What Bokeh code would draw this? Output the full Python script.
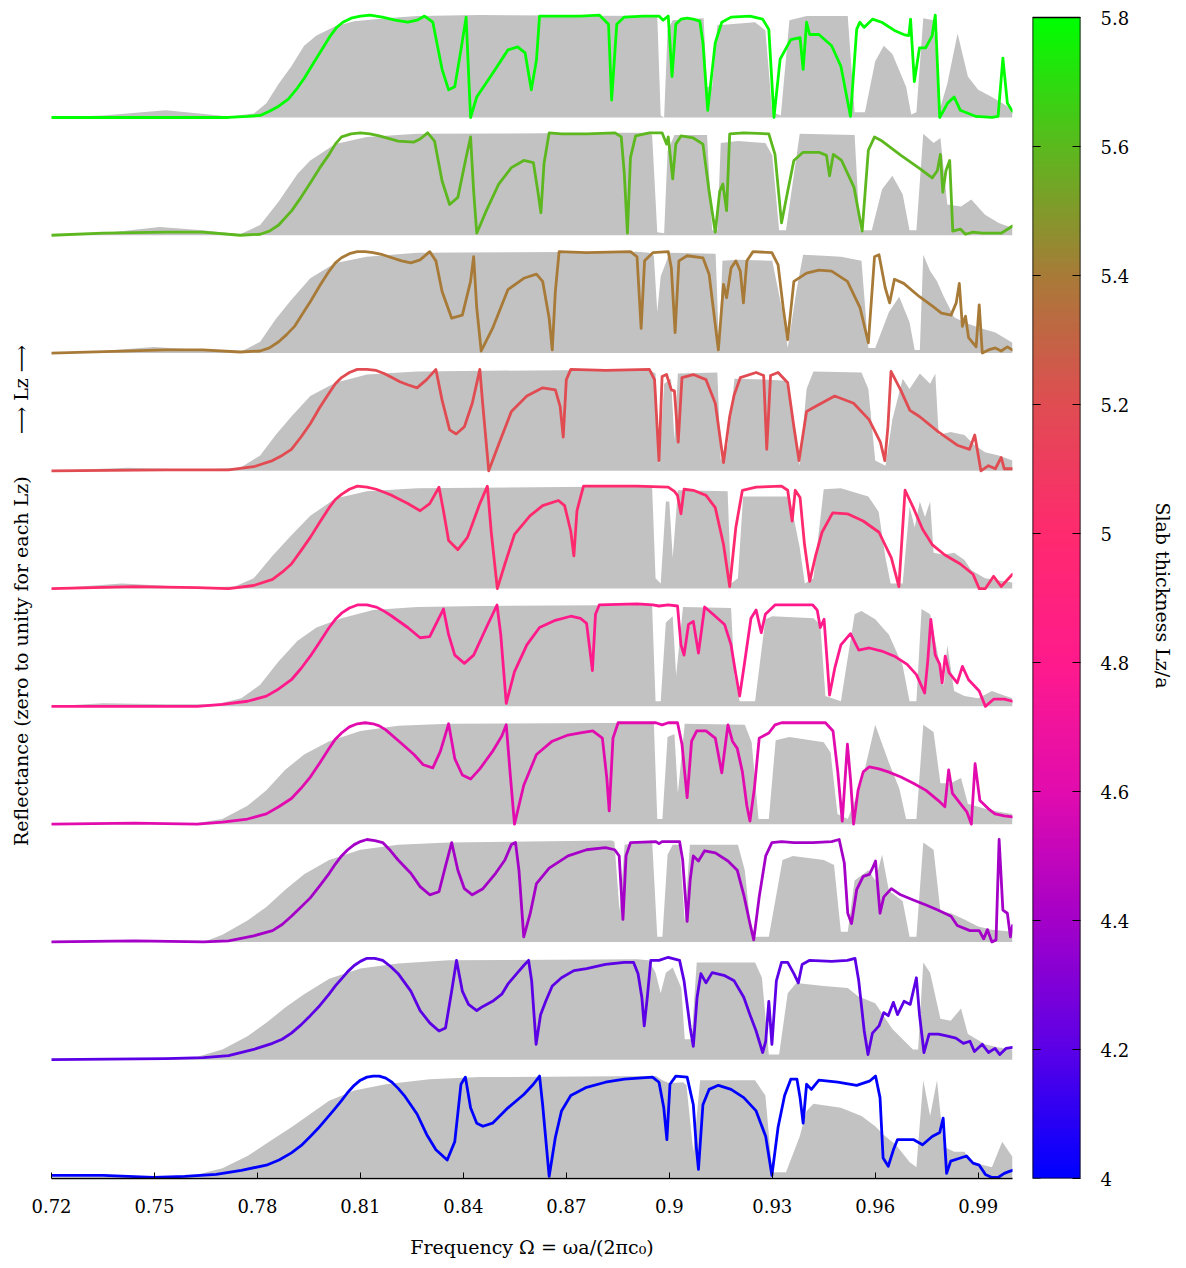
from bokeh.plotting import figure
from bokeh.layouts import row
from bokeh.models import FixedTicker, LinearColorMapper, Range1d
from bokeh.embed import file_html
from bokeh.resources import INLINE
import numpy as np

# ---------------- data (frequency, reflectance) ----------------
LZ_VALUES = [4.0, 4.2, 4.4, 4.6, 4.8, 5.0, 5.2, 5.4, 5.6, 5.8]
LZ_COLORS = ["#0000ff", "#5c00e6", "#a400c8", "#e20cae", "#ff1a8c",
             "#ff2a6e", "#e04c52", "#a87a38", "#5cb81e", "#00ff00"]

X_TICKS = [0.72, 0.75, 0.78, 0.81, 0.84, 0.87, 0.9, 0.93, 0.96, 0.99]
X_LABELS = ["0.72", "0.75", "0.78", "0.81", "0.84", "0.87", "0.9", "0.93", "0.96", "0.99"]
CB_TICKS = [4.0, 4.2, 4.4, 4.6, 4.8, 5.0, 5.2, 5.4, 5.6, 5.8]
CB_LABELS = ["4", "4.2", "4.4", "4.6", "4.8", "5", "5.2", "5.4", "5.6", "5.8"]

LINE_58 = [(0.720,0.00),(0.7716,0.00),(0.7771,0.01),(0.7808,0.02),(0.7835,0.06),(0.7862,0.11),(0.789,0.18),(0.7917,0.29),(0.7936,0.38),(0.7963,0.53),(0.7991,0.68),(0.8013,0.80),(0.8031,0.88),(0.8049,0.93),(0.8073,0.97),(0.810,0.99),(0.8128,1.00),(0.8164,0.98),(0.8201,0.95),(0.8238,0.93),(0.8265,0.95),(0.8287,0.99),(0.8311,0.93),(0.8338,0.47),(0.8357,0.27),(0.8375,0.30),(0.8393,0.66),(0.8408,0.98),(0.8421,0.00),(0.8439,0.20),(0.8485,0.43),(0.853,0.66),(0.8558,0.69),(0.858,0.63),(0.8598,0.27),(0.8613,0.56),(0.8622,0.99),(0.8668,0.99),(0.8741,0.99),(0.8796,1.00),(0.8823,0.91),(0.8832,0.17),(0.8847,0.91),(0.8869,0.98),(0.8924,0.99),(0.897,0.99),(0.8982,0.95),(0.8997,0.99),(0.9008,0.40),(0.9019,0.91),(0.9034,0.96),(0.9052,0.97),(0.907,0.96),(0.9089,0.94),(0.9098,0.73),(0.9112,0.07),(0.9134,0.73),(0.9153,0.93),(0.918,0.98),(0.9235,0.99),(0.9272,0.96),(0.929,0.86),(0.9305,0.00),(0.9323,0.57),(0.9354,0.76),(0.9381,0.78),(0.939,0.47),(0.940,0.93),(0.9409,0.81),(0.9436,0.81),(0.9473,0.70),(0.950,0.50),(0.9528,0.01),(0.9546,0.86),(0.9555,0.93),(0.9568,0.88),(0.9592,0.96),(0.9619,0.93),(0.9656,0.85),(0.9683,0.81),(0.9698,0.80),(0.9703,0.96),(0.9714,0.35),(0.9729,0.68),(0.9747,0.68),(0.9766,0.80),(0.9775,1.00),(0.9788,0.00),(0.9811,0.14),(0.983,0.20),(0.9848,0.07),(0.9894,0.01),(0.994,0.00),(0.9958,0.01),(0.9972,0.58),(0.9985,0.14),(1.000,0.06)]
GREY_58 = [(0.720,0.00),(0.735,0.02),(0.7533,0.07),(0.763,0.04),(0.7716,0.01),(0.779,0.04),(0.7826,0.14),(0.7862,0.33),(0.7899,0.50),(0.7936,0.70),(0.7972,0.80),(0.8027,0.89),(0.8082,0.94),(0.8174,0.97),(0.8265,0.99),(0.8448,1.0),(0.8950,0.99),(0.8965,0.99),(0.8975,0.02),(0.8985,0.0),(0.8995,0.85),(0.9010,0.95),(0.9100,0.97),(0.9110,0.3),(0.9125,0.3),(0.9140,0.90),(0.9250,0.93),(0.9280,0.85),(0.9300,0.05),(0.9325,0.02),(0.9350,0.95),(0.9400,0.99),(0.9520,0.99),(0.9540,0.05),(0.9570,0.05),(0.9600,0.55),(0.9625,0.70),(0.9650,0.62),(0.9690,0.30),(0.9705,0.03),(0.9720,0.05),(0.9740,0.97),(0.9770,0.95),(0.9790,0.10),(0.9810,0.33),(0.9840,0.82),(0.9870,0.40),(0.9900,0.27),(0.9940,0.20),(0.9980,0.12),(1.000,0.07)]

LINE_56 = [(0.720,0.00),(0.735,0.02),(0.7533,0.03),(0.764,0.03),(0.775,0.00),(0.7808,0.01),(0.7835,0.04),(0.7862,0.10),(0.790,0.24),(0.7927,0.37),(0.7954,0.51),(0.7982,0.66),(0.8009,0.79),(0.8027,0.89),(0.8045,0.96),(0.8073,0.99),(0.810,1.00),(0.8128,0.99),(0.8155,0.97),(0.821,0.92),(0.8256,0.91),(0.8274,0.94),(0.8296,1.00),(0.8316,0.92),(0.8338,0.53),(0.836,0.30),(0.8384,0.37),(0.8408,0.76),(0.8421,0.96),(0.843,0.43),(0.8439,0.02),(0.8467,0.24),(0.8503,0.50),(0.854,0.66),(0.8576,0.73),(0.8604,0.71),(0.8617,0.43),(0.8626,0.22),(0.8635,0.70),(0.865,1.00),(0.8686,0.99),(0.8759,0.99),(0.8842,1.00),(0.886,0.96),(0.8869,0.60),(0.8878,0.02),(0.8887,0.76),(0.8902,0.97),(0.8942,1.00),(0.8979,1.00),(0.8992,0.89),(0.8997,0.96),(0.901,0.55),(0.9019,0.89),(0.9034,0.97),(0.907,0.95),(0.9098,0.89),(0.9116,0.43),(0.9134,0.03),(0.9147,0.43),(0.9156,0.50),(0.9167,0.24),(0.9176,0.99),(0.9217,1.00),(0.929,0.99),(0.9308,0.79),(0.9327,0.12),(0.9345,0.43),(0.9363,0.73),(0.939,0.81),(0.9436,0.81),(0.9458,0.78),(0.9467,0.58),(0.9478,0.79),(0.9502,0.73),(0.9538,0.47),(0.9562,0.04),(0.958,0.83),(0.9598,0.96),(0.962,0.92),(0.9675,0.78),(0.973,0.65),(0.9766,0.56),(0.9781,0.63),(0.979,0.79),(0.9797,0.42),(0.9806,0.63),(0.9817,0.73),(0.9826,0.04),(0.9848,0.06),(0.9863,0.01),(0.9885,0.03),(0.9912,0.02),(0.9967,0.02),(1.000,0.09)]
GREY_56 = [(0.720,0.00),(0.735,0.02),(0.7515,0.08),(0.764,0.05),(0.775,0.01),(0.7808,0.10),(0.7862,0.33),(0.7917,0.60),(0.7954,0.73),(0.8027,0.89),(0.8119,0.96),(0.8265,0.99),(0.8869,1.0),(0.8940,1.0),(0.8950,0.98),(0.8965,0.03),(0.8985,0.02),(0.8995,0.82),(0.9015,0.98),(0.9110,0.98),(0.9125,0.05),(0.9140,0.05),(0.9150,0.90),(0.9200,0.92),(0.9280,0.90),(0.9300,0.78),(0.9320,0.05),(0.9340,0.05),(0.9380,0.99),(0.9540,0.98),(0.9555,0.05),(0.9590,0.05),(0.9620,0.45),(0.9650,0.58),(0.9680,0.40),(0.9700,0.05),(0.9720,0.05),(0.9740,0.99),(0.9770,0.90),(0.9790,0.95),(0.9810,0.30),(0.9850,0.28),(0.9880,0.35),(0.9920,0.20),(0.9960,0.12),(1.000,0.07)]

LINE_54 = [(0.720,0.00),(0.7533,0.03),(0.764,0.03),(0.775,0.01),(0.7808,0.02),(0.7835,0.05),(0.7862,0.11),(0.7885,0.18),(0.7908,0.26),(0.7931,0.38),(0.7954,0.50),(0.7982,0.66),(0.8009,0.80),(0.8027,0.88),(0.8045,0.93),(0.8068,0.97),(0.8091,0.99),(0.8114,0.99),(0.8137,0.98),(0.8165,0.96),(0.8192,0.93),(0.822,0.90),(0.8247,0.88),(0.8274,0.91),(0.8302,0.99),(0.832,0.90),(0.8338,0.60),(0.8366,0.34),(0.8397,0.37),(0.8421,0.70),(0.843,0.94),(0.8439,0.44),(0.8452,0.02),(0.8485,0.24),(0.853,0.62),(0.8576,0.73),(0.8613,0.77),(0.8631,0.70),(0.865,0.34),(0.8659,0.03),(0.8668,0.60),(0.8679,0.99),(0.8759,0.98),(0.8887,0.99),(0.8906,0.94),(0.8918,0.24),(0.8928,0.90),(0.8952,0.98),(0.8997,0.99),(0.9006,0.83),(0.9017,0.20),(0.9028,0.90),(0.9052,0.95),(0.9098,0.93),(0.9116,0.77),(0.9143,0.03),(0.9158,0.67),(0.9167,0.54),(0.918,0.83),(0.9194,0.90),(0.9207,0.80),(0.9216,0.49),(0.9226,0.90),(0.9244,0.99),(0.9299,0.98),(0.9317,0.86),(0.9332,0.44),(0.9345,0.13),(0.9363,0.70),(0.940,0.78),(0.9436,0.81),(0.9473,0.80),(0.9519,0.70),(0.9556,0.44),(0.958,0.10),(0.9598,0.94),(0.9611,0.96),(0.9629,0.64),(0.9642,0.49),(0.9656,0.72),(0.9683,0.68),(0.9729,0.55),(0.9766,0.46),(0.9793,0.39),(0.9821,0.37),(0.9836,0.49),(0.9845,0.68),(0.9854,0.26),(0.9863,0.36),(0.9872,0.15),(0.9894,0.06),(0.9903,0.47),(0.9912,0.00),(0.993,0.03),(0.995,0.05),(0.9967,0.02),(0.9985,0.06),(1.000,0.03)]
GREY_54 = [(0.720,0.00),(0.735,0.02),(0.7497,0.06),(0.764,0.03),(0.775,0.01),(0.7808,0.11),(0.7853,0.33),(0.7899,0.52),(0.7954,0.73),(0.8027,0.88),(0.8119,0.94),(0.8265,0.98),(0.8906,0.99),(0.8940,0.98),(0.8955,0.95),(0.8965,0.40),(0.8975,0.75),(0.8990,0.88),(0.9000,0.98),(0.9135,0.97),(0.9145,0.05),(0.9155,0.90),(0.9200,0.91),(0.9300,0.90),(0.9330,0.40),(0.9345,0.05),(0.9370,0.60),(0.9390,0.96),(0.9450,0.95),(0.9500,0.94),(0.9560,0.90),(0.9580,0.05),(0.9600,0.05),(0.9640,0.40),(0.9670,0.55),(0.9700,0.30),(0.9715,0.03),(0.9730,0.03),(0.9740,0.96),(0.9760,0.80),(0.9780,0.70),(0.9800,0.55),(0.9830,0.35),(0.9860,0.30),(0.9900,0.25),(0.9950,0.20),(1.000,0.10)]

LINE_52 = [(0.720,0.00),(0.7533,0.01),(0.7716,0.01),(0.7789,0.04),(0.7844,0.10),(0.7872,0.15),(0.7899,0.21),(0.7927,0.33),(0.7954,0.46),(0.7982,0.62),(0.8009,0.76),(0.8027,0.85),(0.8045,0.91),(0.8068,0.96),(0.8091,0.99),(0.8119,0.99),(0.8146,0.98),(0.8169,0.95),(0.8192,0.91),(0.8215,0.87),(0.8238,0.84),(0.8265,0.81),(0.8293,0.89),(0.832,0.99),(0.8338,0.69),(0.836,0.40),(0.8379,0.36),(0.8403,0.43),(0.8426,0.66),(0.8448,0.99),(0.8457,0.63),(0.8474,0.00),(0.8503,0.26),(0.854,0.58),(0.8585,0.73),(0.8631,0.81),(0.8668,0.79),(0.8682,0.63),(0.8691,0.33),(0.870,0.89),(0.8713,0.99),(0.8814,0.98),(0.8942,0.99),(0.8957,0.89),(0.897,0.10),(0.8979,0.92),(0.8992,0.94),(0.9006,0.79),(0.9015,0.78),(0.9026,0.28),(0.9037,0.91),(0.907,0.94),(0.9107,0.89),(0.9134,0.66),(0.9158,0.08),(0.9176,0.53),(0.9189,0.74),(0.9207,0.91),(0.9253,0.96),(0.9275,0.93),(0.9284,0.21),(0.9295,0.93),(0.9317,0.96),(0.9345,0.86),(0.9363,0.43),(0.9378,0.10),(0.940,0.58),(0.9427,0.63),(0.9482,0.73),(0.9537,0.66),(0.9582,0.50),(0.9615,0.28),(0.9628,0.10),(0.9637,0.43),(0.9646,0.97),(0.9674,0.79),(0.9701,0.59),(0.9729,0.53),(0.9784,0.38),(0.9839,0.25),(0.9875,0.21),(0.989,0.35),(0.9908,0.00),(0.993,0.05),(0.995,0.02),(0.9967,0.13),(0.9976,0.02),(1.000,0.02)]
GREY_52 = [(0.720,0.00),(0.7423,0.03),(0.762,0.01),(0.775,0.03),(0.7808,0.15),(0.7853,0.35),(0.7899,0.53),(0.7954,0.73),(0.8027,0.86),(0.8119,0.94),(0.8265,0.97),(0.8924,0.99),(0.8940,0.99),(0.8960,0.95),(0.8970,0.05),(0.8985,0.85),(0.9005,0.90),(0.9015,0.30),(0.9025,0.95),(0.9140,0.96),(0.9150,0.10),(0.9170,0.25),(0.9190,0.90),(0.9290,0.89),(0.9340,0.88),(0.9365,0.40),(0.9380,0.05),(0.9400,0.80),(0.9420,0.97),(0.9560,0.96),(0.9580,0.80),(0.9600,0.10),(0.9630,0.05),(0.9650,0.50),(0.9680,0.90),(0.9700,0.80),(0.9730,0.95),(0.9760,0.85),(0.9775,0.95),(0.9785,0.35),(0.9820,0.38),(0.9860,0.35),(0.9890,0.25),(0.9920,0.18),(0.9960,0.15),(1.000,0.10)]

LINE_50 = [(0.720,0.00),(0.7442,0.02),(0.7625,0.01),(0.7716,0.00),(0.7789,0.03),(0.7844,0.09),(0.7872,0.16),(0.7899,0.24),(0.7927,0.37),(0.7954,0.50),(0.7982,0.65),(0.8009,0.79),(0.8027,0.87),(0.8045,0.92),(0.8068,0.97),(0.8091,1.00),(0.8119,0.99),(0.8146,0.97),(0.8169,0.94),(0.8192,0.91),(0.8238,0.83),(0.8274,0.76),(0.8302,0.83),(0.8329,0.99),(0.8342,0.76),(0.8357,0.47),(0.8384,0.38),(0.8412,0.50),(0.8448,0.83),(0.847,1.00),(0.8481,0.56),(0.8499,0.00),(0.8521,0.24),(0.8549,0.53),(0.8594,0.71),(0.8631,0.81),(0.8677,0.86),(0.8695,0.81),(0.8713,0.56),(0.8722,0.32),(0.8731,0.76),(0.875,1.00),(0.8814,1.00),(0.8906,1.00),(0.8997,0.99),(0.9015,0.95),(0.9024,0.91),(0.9034,0.73),(0.9043,0.97),(0.907,0.96),(0.9107,0.91),(0.9134,0.79),(0.9158,0.43),(0.9176,0.02),(0.9194,0.60),(0.9213,0.96),(0.9253,0.99),(0.9327,1.00),(0.9345,0.96),(0.9358,0.66),(0.9367,0.96),(0.9381,0.89),(0.9394,0.43),(0.9409,0.07),(0.9427,0.33),(0.9445,0.55),(0.9476,0.74),(0.9519,0.73),(0.9565,0.66),(0.9611,0.55),(0.9647,0.30),(0.9669,0.02),(0.9687,0.96),(0.9711,0.79),(0.9738,0.58),(0.9766,0.43),(0.9802,0.33),(0.9848,0.24),(0.9885,0.14),(0.9903,0.00),(0.9921,0.00),(0.9945,0.12),(0.9967,0.02),(1.000,0.14)]
GREY_50 = [(0.720,0.00),(0.7405,0.05),(0.7625,0.01),(0.7734,0.02),(0.7789,0.10),(0.7844,0.32),(0.7899,0.52),(0.7954,0.71),(0.8027,0.88),(0.8119,0.95),(0.8265,0.98),(0.8942,1.0),(0.8950,0.99),(0.8960,0.10),(0.8975,0.05),(0.8990,0.85),(0.9000,0.85),(0.9010,0.30),(0.9025,0.96),(0.9170,0.95),(0.9180,0.05),(0.9200,0.10),(0.9215,0.90),(0.9350,0.90),(0.9380,0.40),(0.9395,0.05),(0.9420,0.10),(0.9450,0.97),(0.9500,0.98),(0.9580,0.90),(0.9610,0.75),(0.9630,0.30),(0.9645,0.05),(0.9680,0.05),(0.9700,0.80),(0.9715,0.60),(0.9730,0.85),(0.9745,0.70),(0.9760,0.85),(0.9770,0.35),(0.9800,0.33),(0.9830,0.35),(0.9860,0.28),(0.9880,0.18),(0.9920,0.10),(0.9960,0.08),(1.000,0.06)]

LINE_48 = [(0.720,0.00),(0.7625,0.00),(0.7698,0.02),(0.7771,0.05),(0.7826,0.10),(0.7862,0.17),(0.7899,0.26),(0.7927,0.37),(0.7954,0.49),(0.7982,0.63),(0.8009,0.77),(0.8027,0.85),(0.8045,0.91),(0.8068,0.96),(0.8091,0.99),(0.8119,0.99),(0.8146,0.97),(0.8169,0.93),(0.8192,0.88),(0.8238,0.77),(0.8274,0.67),(0.8302,0.68),(0.8324,0.83),(0.8342,0.95),(0.8357,0.70),(0.8375,0.50),(0.8403,0.42),(0.843,0.50),(0.8467,0.77),(0.8498,0.99),(0.8509,0.70),(0.8525,0.03),(0.8549,0.34),(0.8585,0.60),(0.8622,0.77),(0.8668,0.84),(0.8713,0.88),(0.8741,0.86),(0.8759,0.81),(0.8768,0.57),(0.8776,0.35),(0.8785,0.90),(0.8796,0.99),(0.8906,1.00),(0.8952,0.99),(0.897,0.98),(0.8997,0.99),(0.9024,0.98),(0.9034,0.60),(0.9043,0.50),(0.9056,0.80),(0.907,0.83),(0.9085,0.52),(0.9103,0.97),(0.9134,0.88),(0.9161,0.80),(0.918,0.60),(0.9194,0.31),(0.9205,0.10),(0.922,0.44),(0.9238,0.86),(0.9253,0.94),(0.9268,0.72),(0.928,0.90),(0.9308,0.99),(0.9418,0.99),(0.9431,0.94),(0.944,0.77),(0.9451,0.85),(0.946,0.44),(0.9467,0.11),(0.9482,0.37),(0.950,0.60),(0.9528,0.71),(0.9552,0.55),(0.9583,0.57),(0.9619,0.54),(0.9656,0.49),(0.9693,0.41),(0.972,0.31),(0.9744,0.13),(0.9753,0.44),(0.9762,0.85),(0.9775,0.50),(0.9788,0.41),(0.9795,0.23),(0.9804,0.49),(0.9815,0.33),(0.9839,0.23),(0.9854,0.39),(0.9872,0.26),(0.9903,0.15),(0.9921,0.00),(0.9945,0.07),(0.9976,0.07),(1.000,0.05)]
GREY_48 = [(0.720,0.00),(0.735,0.03),(0.7533,0.02),(0.768,0.02),(0.7753,0.08),(0.7808,0.21),(0.7862,0.44),(0.7917,0.64),(0.7972,0.77),(0.8045,0.86),(0.8137,0.94),(0.8265,0.97),(0.8448,0.98),(0.8942,0.99),(0.8950,0.98),(0.8960,0.05),(0.8975,0.05),(0.8990,0.82),(0.9010,0.88),(0.9020,0.30),(0.9040,0.97),(0.9180,0.96),(0.9190,0.30),(0.9205,0.05),(0.9250,0.05),(0.9280,0.85),(0.9300,0.88),(0.9420,0.86),(0.9440,0.80),(0.9455,0.10),(0.9500,0.05),(0.9540,0.90),(0.9560,0.93),(0.9600,0.85),(0.9640,0.70),(0.9680,0.40),(0.9700,0.05),(0.9720,0.05),(0.9735,0.95),(0.9760,0.90),(0.9780,0.55),(0.9800,0.20),(0.9810,0.60),(0.9830,0.15),(0.9860,0.10),(0.9900,0.08),(0.9940,0.15),(0.9980,0.10),(1.000,0.08)]

LINE_46 = [(0.720,0.00),(0.7442,0.01),(0.7625,0.00),(0.7698,0.02),(0.7771,0.05),(0.7826,0.10),(0.7862,0.17),(0.7899,0.25),(0.7927,0.35),(0.7954,0.46),(0.7982,0.60),(0.8009,0.74),(0.8027,0.83),(0.8045,0.89),(0.8068,0.95),(0.8091,0.98),(0.8114,0.99),(0.8137,0.98),(0.8155,0.96),(0.8174,0.92),(0.8219,0.79),(0.8256,0.68),(0.8283,0.58),(0.8311,0.55),(0.8333,0.71),(0.8357,0.98),(0.8375,0.64),(0.8397,0.48),(0.8421,0.44),(0.8448,0.54),(0.8485,0.71),(0.8512,0.86),(0.8525,0.97),(0.8536,0.51),(0.8549,0.00),(0.8576,0.38),(0.8613,0.68),(0.8659,0.81),(0.8705,0.87),(0.8741,0.89),(0.8777,0.91),(0.8805,0.84),(0.8818,0.45),(0.8825,0.13),(0.8836,0.84),(0.8851,0.99),(0.8961,0.99),(0.8979,0.97),(0.8997,0.99),(0.9024,0.99),(0.9037,0.78),(0.9052,0.26),(0.9065,0.81),(0.908,0.91),(0.9107,0.91),(0.9134,0.84),(0.9143,0.68),(0.9153,0.50),(0.9162,0.74),(0.9171,0.97),(0.9184,0.81),(0.9198,0.74),(0.9213,0.51),(0.9226,0.18),(0.9235,0.03),(0.9248,0.35),(0.9262,0.84),(0.929,0.89),(0.9308,0.97),(0.9327,0.99),(0.9455,0.99),(0.9477,0.91),(0.9491,0.51),(0.9504,0.03),(0.9519,0.78),(0.9528,0.44),(0.9537,0.00),(0.955,0.33),(0.9565,0.51),(0.9583,0.56),(0.9611,0.54),(0.9638,0.51),(0.9675,0.46),(0.9711,0.40),(0.9748,0.33),(0.9784,0.23),(0.9803,0.17),(0.9814,0.53),(0.9825,0.30),(0.9848,0.20),(0.9867,0.12),(0.988,0.00),(0.9891,0.59),(0.9905,0.23),(0.993,0.15),(0.9949,0.10),(0.9976,0.08),(1.000,0.07)]
GREY_46 = [(0.720,0.00),(0.7625,0.01),(0.7698,0.05),(0.7771,0.18),(0.7826,0.33),(0.7881,0.53),(0.7936,0.68),(0.8009,0.81),(0.810,0.91),(0.821,0.96),(0.8357,0.98),(0.8942,0.99),(0.8955,0.99),(0.8965,0.05),(0.8980,0.05),(0.8995,0.85),(0.9015,0.88),(0.9025,0.30),(0.9045,0.98),(0.9220,0.97),(0.9240,0.80),(0.9260,0.05),(0.9290,0.05),(0.9310,0.82),(0.9350,0.85),(0.9450,0.80),(0.9470,0.70),(0.9490,0.10),(0.9520,0.05),(0.9560,0.40),(0.9600,0.97),(0.9640,0.60),(0.9670,0.35),(0.9690,0.05),(0.9720,0.05),(0.9740,0.97),(0.9770,0.90),(0.9790,0.40),(0.9820,0.40),(0.9850,0.45),(0.9870,0.20),(0.9920,0.15),(0.9960,0.12),(1.000,0.10)]

LINE_44 = [(0.720,0.00),(0.7442,0.01),(0.7643,0.00),(0.7716,0.01),(0.7789,0.06),(0.7844,0.11),(0.7872,0.17),(0.7899,0.25),(0.7927,0.34),(0.7954,0.43),(0.7982,0.55),(0.8009,0.67),(0.8027,0.76),(0.8045,0.84),(0.8063,0.90),(0.8082,0.95),(0.810,0.98),(0.8119,1.00),(0.8142,0.99),(0.8165,0.97),(0.8188,0.89),(0.821,0.80),(0.8247,0.67),(0.8274,0.54),(0.8302,0.46),(0.8329,0.49),(0.8348,0.74),(0.8366,0.97),(0.8384,0.70),(0.8403,0.52),(0.8426,0.46),(0.8457,0.52),(0.8494,0.67),(0.8521,0.80),(0.854,0.95),(0.8552,0.97),(0.8562,0.70),(0.8576,0.05),(0.8595,0.28),(0.8613,0.57),(0.865,0.72),(0.8705,0.84),(0.8759,0.90),(0.8814,0.92),(0.8841,0.90),(0.8854,0.84),(0.8865,0.22),(0.8874,0.84),(0.8887,0.97),(0.8961,0.98),(0.897,0.96),(0.8979,0.98),(0.903,0.98),(0.9039,0.80),(0.9052,0.20),(0.9061,0.61),(0.907,0.84),(0.9085,0.79),(0.9103,0.89),(0.9134,0.87),(0.9171,0.79),(0.9198,0.70),(0.9217,0.46),(0.9235,0.18),(0.9246,0.02),(0.9262,0.44),(0.9281,0.84),(0.9299,0.97),(0.9327,0.98),(0.9363,0.97),(0.9418,0.97),(0.9473,0.98),(0.9495,1.00),(0.951,0.77),(0.952,0.28),(0.9531,0.18),(0.9546,0.51),(0.9565,0.64),(0.9583,0.66),(0.9592,0.72),(0.9601,0.79),(0.9614,0.28),(0.9625,0.44),(0.9647,0.52),(0.9674,0.46),(0.9711,0.41),(0.9748,0.36),(0.9784,0.31),(0.9821,0.25),(0.9839,0.16),(0.9876,0.11),(0.9903,0.11),(0.9916,0.03),(0.9927,0.12),(0.994,0.00),(0.9952,0.02),(0.9961,1.00),(0.9972,0.31),(0.9985,0.28),(0.9994,0.05),(1.000,0.16)]
GREY_44 = [(0.720,0.00),(0.7643,0.00),(0.7698,0.07),(0.7771,0.21),(0.7826,0.34),(0.7881,0.51),(0.7936,0.66),(0.8009,0.80),(0.810,0.90),(0.821,0.95),(0.8357,0.97),(0.8832,0.99),(0.8840,0.98),(0.8855,0.30),(0.8870,0.95),(0.8950,0.99),(0.8965,0.05),(0.8980,0.05),(0.8995,0.85),(0.9010,0.95),(0.9030,0.95),(0.9045,0.20),(0.9060,0.95),(0.9200,0.95),(0.9220,0.70),(0.9240,0.05),(0.9290,0.05),(0.9330,0.80),(0.9360,0.84),(0.9450,0.80),(0.9480,0.75),(0.9500,0.10),(0.9520,0.10),(0.9540,0.60),(0.9580,0.70),(0.9600,0.60),(0.9620,0.85),(0.9640,0.50),(0.9680,0.40),(0.9700,0.05),(0.9720,0.05),(0.9740,0.97),(0.9770,0.90),(0.9790,0.30),(0.9820,0.28),(0.9860,0.22),(0.9900,0.15),(0.9940,0.12),(1.000,0.10)]

LINE_42 = [(0.720,0.00),(0.7533,0.01),(0.7643,0.02),(0.7716,0.04),(0.7789,0.10),(0.7844,0.16),(0.7872,0.20),(0.7899,0.26),(0.7927,0.34),(0.7954,0.43),(0.7982,0.53),(0.8009,0.64),(0.8027,0.72),(0.8045,0.79),(0.8063,0.86),(0.8082,0.92),(0.810,0.96),(0.8119,0.99),(0.8142,0.99),(0.8165,0.97),(0.8188,0.91),(0.821,0.84),(0.8247,0.67),(0.8274,0.48),(0.8302,0.36),(0.8329,0.28),(0.8348,0.31),(0.8366,0.67),(0.838,0.97),(0.8397,0.67),(0.8415,0.54),(0.8439,0.48),(0.8457,0.52),(0.8485,0.57),(0.8512,0.64),(0.853,0.74),(0.8558,0.85),(0.8576,0.92),(0.859,0.97),(0.8599,0.77),(0.8612,0.15),(0.8625,0.44),(0.864,0.57),(0.8659,0.72),(0.8686,0.80),(0.8722,0.87),(0.8759,0.89),(0.8814,0.93),(0.8869,0.95),(0.8896,0.95),(0.8909,0.84),(0.892,0.61),(0.8927,0.33),(0.8936,0.61),(0.8946,0.97),(0.897,0.97),(0.8997,1.00),(0.903,0.97),(0.9043,0.77),(0.9061,0.31),(0.907,0.13),(0.9081,0.61),(0.9092,0.84),(0.9107,0.75),(0.9125,0.85),(0.9162,0.82),(0.9189,0.77),(0.9217,0.61),(0.9235,0.44),(0.9253,0.28),(0.9272,0.07),(0.9281,0.18),(0.929,0.57),(0.9299,0.15),(0.9312,0.77),(0.9327,0.95),(0.9345,0.95),(0.9363,0.84),(0.9376,0.75),(0.9387,0.93),(0.9409,0.97),(0.9473,0.96),(0.9519,0.97),(0.9541,0.99),(0.9552,0.77),(0.9568,0.28),(0.9579,0.05),(0.9592,0.26),(0.9611,0.33),(0.9625,0.46),(0.9638,0.43),(0.9653,0.56),(0.9665,0.44),(0.9684,0.57),(0.9702,0.54),(0.972,0.80),(0.9729,0.44),(0.9742,0.07),(0.9757,0.25),(0.9784,0.25),(0.9811,0.23),(0.9835,0.21),(0.9857,0.16),(0.9876,0.18),(0.9889,0.08),(0.9912,0.15),(0.993,0.07),(0.9949,0.11),(0.9963,0.05),(0.9981,0.11),(1.000,0.12)]
GREY_42 = [(0.720,0.00),(0.7533,0.01),(0.7625,0.03),(0.7698,0.10),(0.7771,0.23),(0.7826,0.36),(0.7881,0.51),(0.7936,0.64),(0.8009,0.79),(0.810,0.89),(0.821,0.94),(0.8357,0.97),(0.8906,0.98),(0.8940,0.97),(0.8960,0.85),(0.8975,0.65),(0.8990,0.85),(0.9010,0.90),(0.9035,0.70),(0.9045,0.20),(0.9065,0.20),(0.9080,0.95),(0.9250,0.95),(0.9270,0.80),(0.9290,0.05),(0.9320,0.05),(0.9345,0.65),(0.9370,0.75),(0.9450,0.72),(0.9520,0.70),(0.9550,0.62),(0.9600,0.55),(0.9620,0.45),(0.9650,0.30),(0.9680,0.20),(0.9710,0.10),(0.9725,0.10),(0.9740,0.95),(0.9760,0.85),(0.9790,0.40),(0.9820,0.38),(0.9850,0.50),(0.9870,0.25),(0.9920,0.15),(0.9960,0.12),(1.000,0.10)]

LINE_40 = [(0.720,0.02),(0.735,0.02),(0.7497,0.00),(0.7588,0.01),(0.768,0.03),(0.7753,0.07),(0.7826,0.12),(0.7863,0.17),(0.7899,0.24),(0.7927,0.31),(0.7954,0.40),(0.7977,0.48),(0.800,0.57),(0.8023,0.66),(0.8045,0.75),(0.8063,0.83),(0.8082,0.90),(0.810,0.95),(0.8119,0.98),(0.8137,0.99),(0.8155,0.99),(0.8174,0.97),(0.8192,0.93),(0.821,0.87),(0.8228,0.80),(0.8265,0.62),(0.8293,0.42),(0.832,0.27),(0.8353,0.17),(0.8375,0.35),(0.8393,0.91),(0.8406,0.98),(0.8421,0.68),(0.8439,0.53),(0.8457,0.50),(0.8485,0.53),(0.853,0.68),(0.8576,0.81),(0.8604,0.91),(0.8622,0.99),(0.8631,0.71),(0.865,0.01),(0.8668,0.39),(0.8686,0.65),(0.8713,0.80),(0.8759,0.88),(0.8814,0.93),(0.8869,0.96),(0.8951,0.98),(0.897,0.93),(0.8984,0.68),(0.8993,0.37),(0.9002,0.91),(0.9019,0.99),(0.9052,0.98),(0.907,0.71),(0.9079,0.29),(0.9085,0.08),(0.9098,0.71),(0.9116,0.86),(0.9143,0.90),(0.918,0.86),(0.9217,0.78),(0.9253,0.65),(0.9281,0.40),(0.9299,0.02),(0.9317,0.49),(0.9336,0.80),(0.9354,0.96),(0.9372,0.96),(0.9381,0.78),(0.939,0.53),(0.940,0.91),(0.9414,0.86),(0.9436,0.95),(0.9491,0.93),(0.9546,0.90),(0.9583,0.94),(0.9601,0.99),(0.9614,0.78),(0.9623,0.19),(0.9638,0.11),(0.9653,0.27),(0.9665,0.37),(0.9684,0.37),(0.9711,0.37),(0.9738,0.32),(0.9766,0.40),(0.9788,0.44),(0.9798,0.58),(0.9808,0.04),(0.982,0.16),(0.9848,0.19),(0.9866,0.21),(0.9885,0.14),(0.9903,0.12),(0.9921,0.03),(0.994,0.00),(0.9958,0.00),(0.9976,0.04),(0.9991,0.06),(1.000,0.07)]
GREY_40 = [(0.720,0.00),(0.7533,0.01),(0.7625,0.03),(0.7698,0.09),(0.7771,0.21),(0.7844,0.37),(0.7899,0.49),(0.7954,0.62),(0.8009,0.75),(0.8082,0.85),(0.8174,0.91),(0.8302,0.96),(0.8448,0.98),(0.8961,0.99),(0.8980,0.95),(0.9000,0.92),(0.9040,0.93),(0.9050,0.90),(0.9070,0.25),(0.9090,0.95),(0.9250,0.95),(0.9280,0.80),(0.9300,0.05),(0.9340,0.05),(0.9380,0.40),(0.9400,0.65),(0.9420,0.72),(0.9500,0.68),(0.9560,0.60),(0.9600,0.50),(0.9630,0.40),(0.9660,0.32),(0.9700,0.15),(0.9720,0.10),(0.9740,0.95),(0.9760,0.60),(0.9780,0.95),(0.9800,0.30),(0.9830,0.25),(0.9860,0.25),(0.9880,0.15),(0.9940,0.10),(0.9970,0.35),(1.000,0.20)]

LINES = [LINE_40, LINE_42, LINE_44, LINE_46, LINE_48, LINE_50, LINE_52, LINE_54, LINE_56, LINE_58]
GREYS = [GREY_40, GREY_42, GREY_44, GREY_46, GREY_48, GREY_50, GREY_52, GREY_54, GREY_56, GREY_58]

PANEL_STEP = 1.15
FONT = "DejaVu Serif"
GREY = "#c2c2c2"
FIG_H = 1268
TOP = 12
BOTTOM = FIG_H - 1178

# ---------------- main figure ----------------
p = figure(width=1020, height=FIG_H, x_range=Range1d(0.72, 1.0), y_range=Range1d(-0.01, 11.375),
           output_backend="svg", toolbar_location=None, title=None,
           min_border_left=51, min_border_right=8, min_border_top=TOP, min_border_bottom=BOTTOM)
p.outline_line_color = None
p.grid.visible = False
p.background_fill_color = "white"

for k, (lz, col) in enumerate(zip(LZ_VALUES, LZ_COLORS)):
    off = k * PANEL_STEP
    gx = [a for a, b in GREYS[k]]
    gy = [off + b for a, b in GREYS[k]]
    p.varea(x=gx, y1=[off] * len(gx), y2=gy, fill_color=GREY, fill_alpha=1.0)
    lx = [a for a, b in LINES[k]]
    ly = [off + b for a, b in LINES[k]]
    p.line(lx, ly, line_color=col, line_width=2.8, line_join="round", line_cap="round")

xa = p.xaxis[0]
xa.ticker = FixedTicker(ticks=X_TICKS)
xa.major_label_overrides = {t: l for t, l in zip(X_TICKS, X_LABELS)}
xa.major_tick_in = 6
xa.major_tick_out = 0
xa.minor_tick_in = 0
xa.minor_tick_out = 0
xa.axis_line_width = 1.5
xa.major_label_standoff = 20
xa.major_label_text_font = FONT
xa.major_label_text_font_size = "18px"
xa.major_label_text_color = "black"
xa.axis_label = "Frequency \u03a9 = \u03c9a/(2\u03c0c\u2080)"
xa.axis_label_text_font = FONT
xa.axis_label_text_font_size = "19px"
xa.axis_label_text_font_style = "normal"
xa.axis_label_text_color = "black"
xa.axis_label_standoff = 20

ya = p.yaxis[0]
ya.ticker = FixedTicker(ticks=[])
ya.axis_line_color = None
ya.major_tick_in = 0
ya.major_tick_out = 0
ya.minor_tick_in = 0
ya.minor_tick_out = 0
nb = "\u00a0" * 7
ya.axis_label = "Reflectance (zero to unity for each Lz)" + nb + "\u27f6 Lz \u27f6"
ya.axis_label_text_font = FONT
ya.axis_label_text_font_size = "19px"
ya.axis_label_text_font_style = "normal"
ya.axis_label_text_color = "black"
ya.axis_label_standoff = 20

# ---------------- colour bar ----------------
anchor_rgb = np.array([[int(c[i:i + 2], 16) for i in (1, 3, 5)] for c in LZ_COLORS], dtype=float)
levels = np.linspace(LZ_VALUES[0], LZ_VALUES[-1], 256)
pal = []
for v in levels:
    r, g, b = (np.interp(v, LZ_VALUES, anchor_rgb[:, j]) for j in range(3))
    pal.append("#%02x%02x%02x" % (int(round(r)), int(round(g)), int(round(b))))
mapper = LinearColorMapper(palette=pal, low=LZ_VALUES[0], high=LZ_VALUES[-1])

# the bar itself spans 4..5.8; the frame is a little taller so that both figures share one frame
cb_top = 5.8 + 5 * 1.8 / 1161
cb = figure(width=166, height=FIG_H, x_range=Range1d(0, 1), y_range=Range1d(4.0, cb_top),
            y_axis_location="right", output_backend="svg", toolbar_location=None, title=None,
            min_border_left=12, min_border_right=106, min_border_top=TOP,
            min_border_bottom=BOTTOM)
cb.grid.visible = False
cb.xaxis.visible = False
cb.outline_line_color = None
cb.image(image=[levels.reshape(256, 1)], x=0, y=4.0, dw=1, dh=1.8, color_mapper=mapper)
cb.segment(x0=[0] * len(CB_TICKS), x1=[0.17] * len(CB_TICKS), y0=CB_TICKS, y1=CB_TICKS,
           line_color="black", line_width=1)
cb.quad(left=[0], right=[1], bottom=[4.0], top=[5.8], fill_color=None,
        line_color="black", line_width=1.6)

ca = cb.yaxis[0]
ca.ticker = FixedTicker(ticks=CB_TICKS)
ca.major_label_overrides = {t: l for t, l in zip(CB_TICKS, CB_LABELS)}
ca.major_tick_in = 8
ca.major_tick_out = 0
ca.minor_tick_in = 0
ca.minor_tick_out = 0
ca.axis_line_color = None
ca.major_label_standoff = 20
ca.major_label_text_font = FONT
ca.major_label_text_font_size = "18px"
ca.major_label_text_color = "black"
ca.axis_label = "Slab thickness Lz/a"
ca.axis_label_text_font = FONT
ca.axis_label_text_font_size = "19px"
ca.axis_label_text_font_style = "normal"
ca.axis_label_text_color = "black"
ca.axis_label_standoff = 20

layout = row(p, cb)
open("out.html", "w").write(file_html(layout, INLINE))
